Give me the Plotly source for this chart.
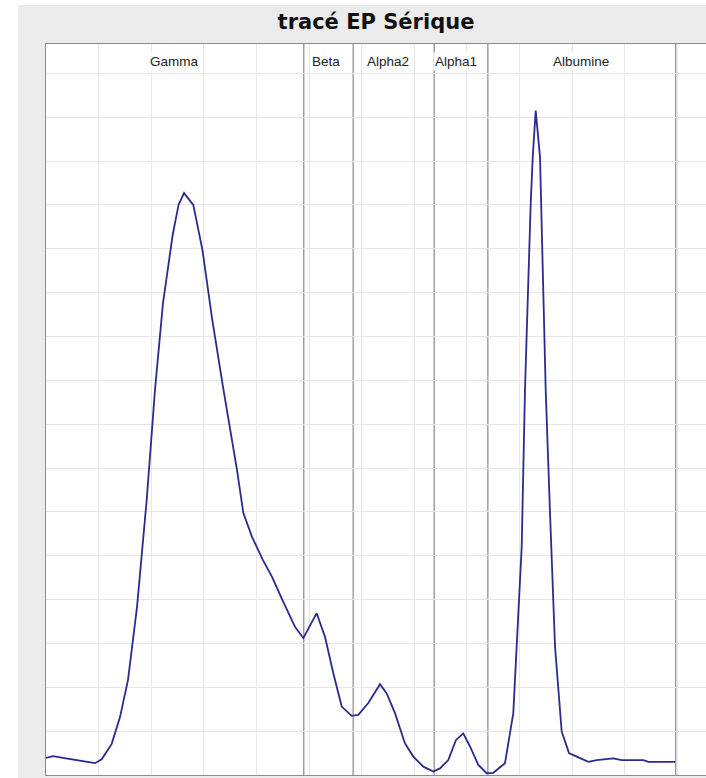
import plotly.graph_objects as go

# Densitometry trace (x: migration position, y: optical density, arbitrary units)
trace_x = [0.0, 1.33, 3.23, 5.51, 7.41, 9.32, 10.59, 12.49, 14.07, 15.59,
           17.30, 19.14, 20.72, 22.24, 24.09, 25.2, 26.24, 28.00, 29.75, 31.56,
           33.65, 36.31, 37.51, 39.16, 41.25, 42.97, 45.11, 47.34, 48.92, 51.46,
           53.04, 54.62, 56.22, 58.12, 59.37, 61.27, 63.50, 64.77, 66.35, 68.25,
           69.83, 71.73, 73.63, 74.90, 76.48, 77.95, 79.33, 80.61, 82.19, 83.78,
           85.04, 87.26, 88.84, 90.44, 91.06, 91.58, 92.15, 92.54, 93.10, 93.92,
           94.54, 95.00, 95.82, 96.77, 98.04, 99.43, 100.89, 103.10, 104.70, 107.85,
           109.45, 113.56, 114.51, 119.60]
trace_y = [3.9, 4.3, 3.9, 3.4, 3.0, 2.7, 3.6, 7.1, 13.2, 21.7,
           38.3, 62.7, 87.8, 107.6, 123.2, 130.0, 132.7, 130.0, 119.7, 104.2,
           88.5, 69.6, 59.8, 54.3, 49.0, 45.2, 39.5, 33.8, 31.2, 36.9,
           31.5, 23.2, 15.6, 13.5, 13.7, 16.4, 20.7, 18.6, 14.1, 7.2,
           4.2, 1.9, 0.8, 1.5, 3.4, 8.0, 9.5, 6.5, 2.3, 0.4,
           0.5, 2.7, 14.1, 52.1, 87.8, 110.6, 130.4, 141.0, 151.5, 140.9,
           110.6, 87.8, 59.8, 29.3, 9.9, 5.0, 4.2, 3.0, 3.4, 3.8,
           3.4, 3.4, 3.0, 3.0]

# Fraction boundaries and labels
boundaries = [49.0, 58.4, 73.8, 84.0, 119.7]
fraction_names = ["Gamma", "Beta", "Alpha2", "Alpha1", "Albumine"]
fraction_label_x = [24.4, 53.2, 65.0, 77.9, 101.8]

title_text = "tracé EP Sérique"

# figure is wider than the window so the plot area runs past the right edge
FIG_W, FIG_H = 740, 778
ML, MT, MB = 46, 44, 3
PLOT_W = FIG_W - ML
PX_PER_UNIT_X = 5.26
x_max = PLOT_W / PX_PER_UNIT_X

fig = go.Figure()
fig.add_trace(go.Scatter(
    x=trace_x, y=trace_y, mode="lines",
    line=dict(color="#2b2b8f", width=1.8),
    hoverinfo="skip", showlegend=False,
))

shapes = []
for b in boundaries:
    shapes.append(dict(type="line", xref="x", yref="paper", x0=b, x1=b, y0=0, y1=1,
                       line=dict(color="#9a9a9a", width=1.4), layer="between"))
# white strips at window edge (outside the plot area)
shapes.append(dict(type="rect", xref="paper", yref="paper",
                   x0=-ML / PLOT_W - 0.01, x1=(18 - ML) / PLOT_W, y0=-0.01, y1=1.07,
                   fillcolor="white", line=dict(width=0), layer="below"))
shapes.append(dict(type="rect", xref="paper", yref="paper",
                   x0=-ML / PLOT_W - 0.01, x1=1.01, y0=1.0534, y1=1.07,
                   fillcolor="white", line=dict(width=0), layer="below"))

annotations = []
for name, lx in zip(fraction_names, fraction_label_x):
    annotations.append(dict(text=name, x=lx, xref="x", y=0.9767, yref="paper",
                            xanchor="center", yanchor="middle", showarrow=False,
                            bgcolor="white", borderpad=1,
                            font=dict(family="Liberation Sans", size=13.5, color="#222222")))

fig.update_layout(
    width=FIG_W, height=FIG_H,
    margin=dict(l=ML, r=0, t=MT, b=MB, pad=0),
    paper_bgcolor="#ebebeb", plot_bgcolor="white",
    title=dict(text="<b>" + title_text + "</b>", x=(376 - ML) / PLOT_W, xref="paper",
               y=1 - 22 / FIG_H, yref="container", xanchor="center", yanchor="middle",
               font=dict(family="DejaVu Sans", size=21, color="#111111")),
    xaxis=dict(range=[0, x_max], tick0=0, dtick=10, showgrid=True, gridcolor="#e6e6e6",
               gridwidth=1, showticklabels=False, ticks="", zeroline=False,
               showline=True, linecolor="#8c8c8c", linewidth=1, mirror=True, fixedrange=True),
    yaxis=dict(range=[0, 166.7], tick0=0, dtick=10, showgrid=True, gridcolor="#e6e6e6",
               gridwidth=1, showticklabels=False, ticks="", zeroline=False,
               showline=True, linecolor="#8c8c8c", linewidth=1, mirror=False, fixedrange=True),
    shapes=shapes, annotations=annotations,
)

fig.write_html(
    "out.html", config={"displayModeBar": False},
    post_script=("document.documentElement.style.margin='0';"
                 "document.documentElement.style.overflow='hidden';"
                 "document.body.style.margin='0';"
                 "document.body.style.overflow='hidden';"),
)
